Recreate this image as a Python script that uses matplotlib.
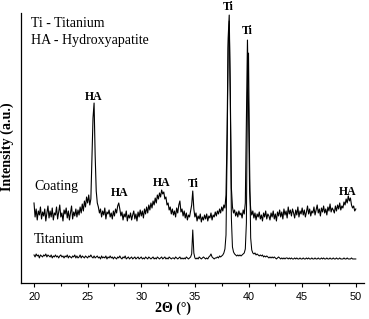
import numpy as np
import matplotlib
matplotlib.use("Agg")

import matplotlib.pyplot as plt
from matplotlib.ticker import MultipleLocator


# 2-theta grid, 0.1 deg steps from 20 to 50
two_theta = np.round(np.arange(200, 501) * 0.1, 1)

# intensities (arbitrary units), one row per degree
coating = [
    80, 66, 74, 63, 72, 68, 76, 64, 71, 67,
    74, 62, 70, 77, 65, 72, 66, 75, 63, 70,
    68, 76, 64, 71, 78, 66, 70, 62, 73, 69,
    75, 65, 72, 63, 70, 77, 64, 71, 67, 74,
    66, 73, 68, 76, 70, 79, 72, 82, 76, 86,
    80, 88, 78, 84, 125, 165, 180, 128, 92, 80,
    76, 70, 74, 66, 72, 68, 75, 64, 71, 69,
    73, 66, 70, 64, 72, 67, 74, 70, 77, 80,
    74, 67, 71, 63, 69, 66, 72, 62, 68, 65,
    70, 63, 68, 72, 64, 69, 62, 71, 66, 73,
    67, 72, 65, 74, 69, 76, 70, 78, 73, 80,
    75, 82, 78, 85, 80, 88, 84, 90, 86, 93,
    89, 91, 84, 86, 78, 80, 73, 76, 69, 74,
    68, 72, 66, 75, 70, 78, 82, 71, 74, 67,
    72, 65, 70, 63, 68, 66, 72, 78, 92, 74,
    66, 70, 62, 67, 64, 69, 61, 66, 63, 68,
    64, 69, 62, 67, 65, 70, 63, 68, 66, 71,
    67, 72, 69, 74, 70, 76, 72, 78, 75, 88,
    150, 245, 268, 190, 95, 76, 70, 73, 67, 71,
    66, 72, 68, 70, 65, 73, 69, 80, 160, 243,
    175, 92, 74, 68, 72, 65, 70, 63, 69, 66,
    71, 64, 68, 62, 70, 66, 72, 64, 69, 67,
    63, 70, 66, 72, 64, 69, 62, 71, 67, 73,
    66, 71, 64, 74, 68, 72, 65, 76, 69, 73,
    67, 74, 70, 65, 73, 68, 76, 66, 72, 69,
    75, 68, 73, 66, 71, 77, 69, 74, 67, 72,
    70, 76, 68, 73, 78, 70, 74, 67, 75, 71,
    77, 70, 74, 68, 76, 72, 79, 71, 75, 73,
    70, 77, 72, 78, 74, 80, 73, 77, 75, 81,
    78, 84, 80, 87, 82, 85, 78, 75, 77, 72,
    74,
]

titanium = [
    28, 26, 29, 27, 28, 25, 28, 27, 26, 28,
    27, 29, 26, 28, 27, 26, 28, 25, 27, 26,
    28, 26, 27, 25, 27, 28, 26, 27, 25, 27,
    26, 28, 25, 27, 26, 25, 27, 26, 28, 25,
    27, 25, 26, 28, 25, 27, 26, 25, 27, 26,
    25, 27, 26, 28, 26, 25, 27, 25, 26, 27,
    25, 26, 24, 27, 25, 26, 25, 27, 24, 26,
    25, 27, 25, 26, 24, 26, 25, 24, 26, 25,
    27, 25, 24, 26, 25, 27, 24, 25, 26, 24,
    25, 26, 24, 25, 26, 24, 25, 26, 24, 25,
    26, 24, 25, 24, 26, 25, 24, 26, 25, 24,
    25, 26, 24, 25, 24, 26, 25, 24, 25, 26,
    24, 25, 26, 24, 25, 24, 26, 25, 24, 25,
    25, 24, 26, 25, 24, 25, 26, 24, 25, 24,
    25, 24, 26, 25, 24, 25, 26, 29, 53, 30,
    25, 24, 25, 24, 26, 25, 24, 25, 26, 25,
    24, 25, 24, 26, 27, 29, 26, 25, 24, 25,
    25, 26, 25, 27, 26, 27, 28, 30, 34, 48,
    130, 235, 262, 185, 65, 36, 31, 29, 28, 27,
    28, 27, 28, 27, 28, 29, 30, 34, 60, 190,
    230, 120, 45, 33, 30, 29, 30, 28, 29, 28,
    27, 28, 27, 28, 26, 27, 26, 27, 26, 25,
    26, 25, 26, 25, 26, 25, 24, 25, 26, 25,
    24, 25, 24, 25, 24, 25, 25, 24, 25, 24,
    25, 24, 24, 25, 24, 25, 24, 24, 25, 24,
    24, 25, 24, 24, 25, 24, 25, 24, 24, 25,
    24, 24, 25, 24, 24, 25, 24, 24, 25, 24,
    25, 24, 24, 25, 24, 24, 25, 24, 24, 25,
    24, 24, 25, 24, 24, 25, 24, 24, 24, 25,
    24, 24, 25, 24, 24, 24, 25, 24, 24, 24,
    24,
]

# peak labels: (text, 2theta, height)
peak_labels = [
    ("HA", 25.55, 186),
    ("Ti", 38.1, 276),
    ("Ti", 39.85, 252),
    ("HA", 27.95, 90),
    ("HA", 31.9, 100),
    ("Ti", 34.8, 99),
    ("HA", 49.25, 91),
]

serif = "Liberation Serif"

fig = plt.figure(figsize=(3.69, 3.19), dpi=100)
ax = fig.add_axes([0.057, 0.113, 0.929, 0.846])

ax.plot(two_theta, titanium, color="black", lw=0.75)
ax.plot(two_theta, coating, color="black", lw=0.8)

ax.set_xlim(18.79, 50.75)
ax.set_ylim(0, 270)

for side in ("top", "right"):
    ax.spines[side].set_visible(False)
ax.spines["left"].set_linewidth(0.9)
ax.spines["bottom"].set_linewidth(0.9)

ax.set_yticks([])
ax.xaxis.set_major_locator(MultipleLocator(5))
ax.xaxis.set_minor_locator(MultipleLocator(2.5))
ax.tick_params(axis="x", which="major", direction="out", length=3, width=0.8,
               labelsize=7.8, pad=3.5)
ax.tick_params(axis="x", which="minor", direction="out", length=2, width=0.8)
for lab in ax.get_xticklabels():
    lab.set_fontfamily("Liberation Sans")

ax.set_xlabel("2Θ (°)", fontfamily=serif, fontweight="bold", fontsize=10)
ax.xaxis.set_label_coords(0.443, -0.067)
ax.set_ylabel("Intensity (a.u.)", fontfamily=serif, fontweight="bold", fontsize=10.2)
ax.yaxis.set_label_coords(-0.02, 0.504)

for text, x, y in peak_labels:
    ax.text(x, y, text, fontfamily=serif, fontweight="bold", fontsize=8.5,
            ha="center", va="center")

ax.text(0.03, 0.962, "Ti - Titanium", transform=ax.transAxes,
        fontfamily=serif, fontsize=10, va="center")
ax.text(0.03, 0.9, "HA - Hydroxyapatite", transform=ax.transAxes,
        fontfamily=serif, fontsize=10, va="center")
ax.text(20.0, 96, "Coating", fontfamily=serif, fontsize=10, va="center")
ax.text(20.0, 43, "Titanium", fontfamily=serif, fontsize=10, va="center")

fig.savefig("out.png", dpi=100)
